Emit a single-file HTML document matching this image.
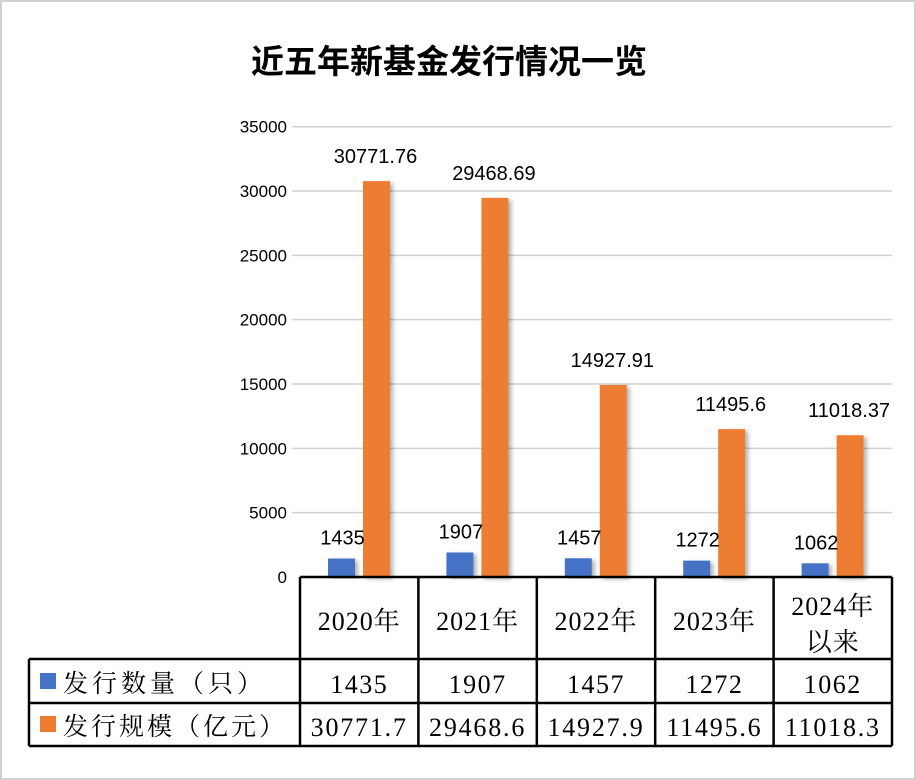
<!DOCTYPE html>
<html><head><meta charset="utf-8"><style>
body{margin:0;background:#fff}
#wrap{position:relative;width:916px;height:780px;box-sizing:border-box;border:2px solid #d0d0d0;background:#fff;overflow:hidden}
svg text{font-family:"Liberation Sans","Noto Sans CJK SC",sans-serif}
.serif{font-family:"Liberation Serif","Noto Serif CJK SC",serif !important}
</style></head><body>
<div id="wrap">
<svg id="chart" width="916" height="780" style="position:absolute;left:-2px;top:-2px">
<defs><filter id="sh" x="-30%" y="-10%" width="160%" height="120%"><feDropShadow dx="3" dy="2" stdDeviation="2" flood-color="#000" flood-opacity="0.3"/></filter></defs>
<text x="449" y="73" text-anchor="middle" font-size="33" font-weight="bold" fill="#000">近五年新基金发行情况一览</text>
<g id="grid"></g><g id="bars"></g><g id="table"></g>
</svg>
</div>
<script>
const categories=["2020年","2021年","2022年","2023年","2024年|以来"];
const countValues=[1435,1907,1457,1272,1062];
const scaleValues=[30771.76,29468.69,14927.91,11495.6,11018.37];
const countLabels=["1435","1907","1457","1272","1062"];
const scaleLabels=["30771.76","29468.69","14927.91","11495.6","11018.37"];
const tableCount=["1435","1907","1457","1272","1062"];
const tableScale=["30771.7","29468.6","14927.9","11495.6","11018.3"];
const yTicks=[0,5000,10000,15000,20000,25000,30000,35000];
const NS="http://www.w3.org/2000/svg";
const x0=300,x1=892,y0=577,yMax=35000,yTop=126.7;
const cw=(x1-x0)/categories.length;
const y=v=>y0-(v/yMax)*(y0-yTop);
const xc=i=>x0+cw*i;
function mk(tag,attrs,parent,txt){const e=document.createElementNS(NS,tag);for(const k in attrs)e.setAttribute(k,attrs[k]);if(txt!==undefined)e.textContent=txt;parent.appendChild(e);return e;}
const grid=document.getElementById('grid'),bars=document.getElementById('bars'),tb=document.getElementById('table');
yTicks.forEach(t=>{
 if(t>0){const l=mk('line',{x1:x0-8,x2:x1,y1:y(t),y2:y(t),stroke:'#d0d0d0','stroke-width':1.5},grid);
 
 }
 const tx=mk('text',{x:287,y:y(t)+6,'text-anchor':'end','font-size':17,fill:'#000'},grid,String(t));
 
 
});
categories.forEach((c,i)=>{
 const bx=xc(i)+28,ox=xc(i)+63,w=27;
 const b=mk('rect',{x:bx,y:y(countValues[i]),width:w,height:y0-y(countValues[i]),fill:'#4472c4',filter:'url(#sh)'},bars);
 
 
 const o=mk('rect',{x:ox,y:y(scaleValues[i]),width:w,height:y0-y(scaleValues[i]),fill:'#ed7d31',filter:'url(#sh)'},bars);
 
 
 const t1=mk('text',{x:bx+w/2+1,y:y(countValues[i])-14,'text-anchor':'middle','font-size':20,fill:'#000'},bars,countLabels[i]);
 
 
 const t2=mk('text',{x:ox+w/2-1,y:y(scaleValues[i])-18,'text-anchor':'middle','font-size':20,fill:'#000'},bars,scaleLabels[i]);
 
 
});
const r1=659,r2=703,r3=746,lx=29;
const L=(a,b,c,d)=>{const l=mk('line',{x1:a,y1:b,x2:c,y2:d,stroke:'#000','stroke-width':2.5},tb);};
L(x0,y0,x1,y0);L(lx,r1,x1,r1);L(lx,r2,x1,r2);L(lx,r3,x1,r3);L(lx,r1,lx,r3);
for(let i=0;i<=categories.length;i++)L(xc(i),y0,xc(i),r3);
categories.forEach((c,i)=>{
 const parts=c.split('|');const cx=xc(i)+cw/2;
 parts.forEach((p,j)=>{
  const yy=parts.length===1?630:615+j*36;
  const t=mk('text',{x:cx,y:yy,'text-anchor':'middle','font-size':26,fill:'#000',class:'serif','letter-spacing':'1'},tb,p);
  
  
 });
 const a=mk('text',{x:cx,y:693,'text-anchor':'middle','font-size':26,fill:'#000',class:'serif','letter-spacing':'1.5'},tb,tableCount[i]);
 
 
 const b=mk('text',{x:cx,y:736,'text-anchor':'middle','font-size':26,fill:'#000',class:'serif','letter-spacing':'1.8'},tb,tableScale[i]);
 
 
});
const k1=mk('rect',{x:40,y:673,width:16,height:16,fill:'#4472c4'},tb);


const k2=mk('rect',{x:40,y:716,width:16,height:16,fill:'#ed7d31'},tb);


const n1=mk('text',{x:63,y:692,'font-size':25,fill:'#000',class:'serif','letter-spacing':'4'},tb,'发行数量（只）');


const n2=mk('text',{x:63,y:735,'font-size':25,fill:'#000',class:'serif','letter-spacing':'3'},tb,'发行规模（亿元）');


</script>
</body></html>
